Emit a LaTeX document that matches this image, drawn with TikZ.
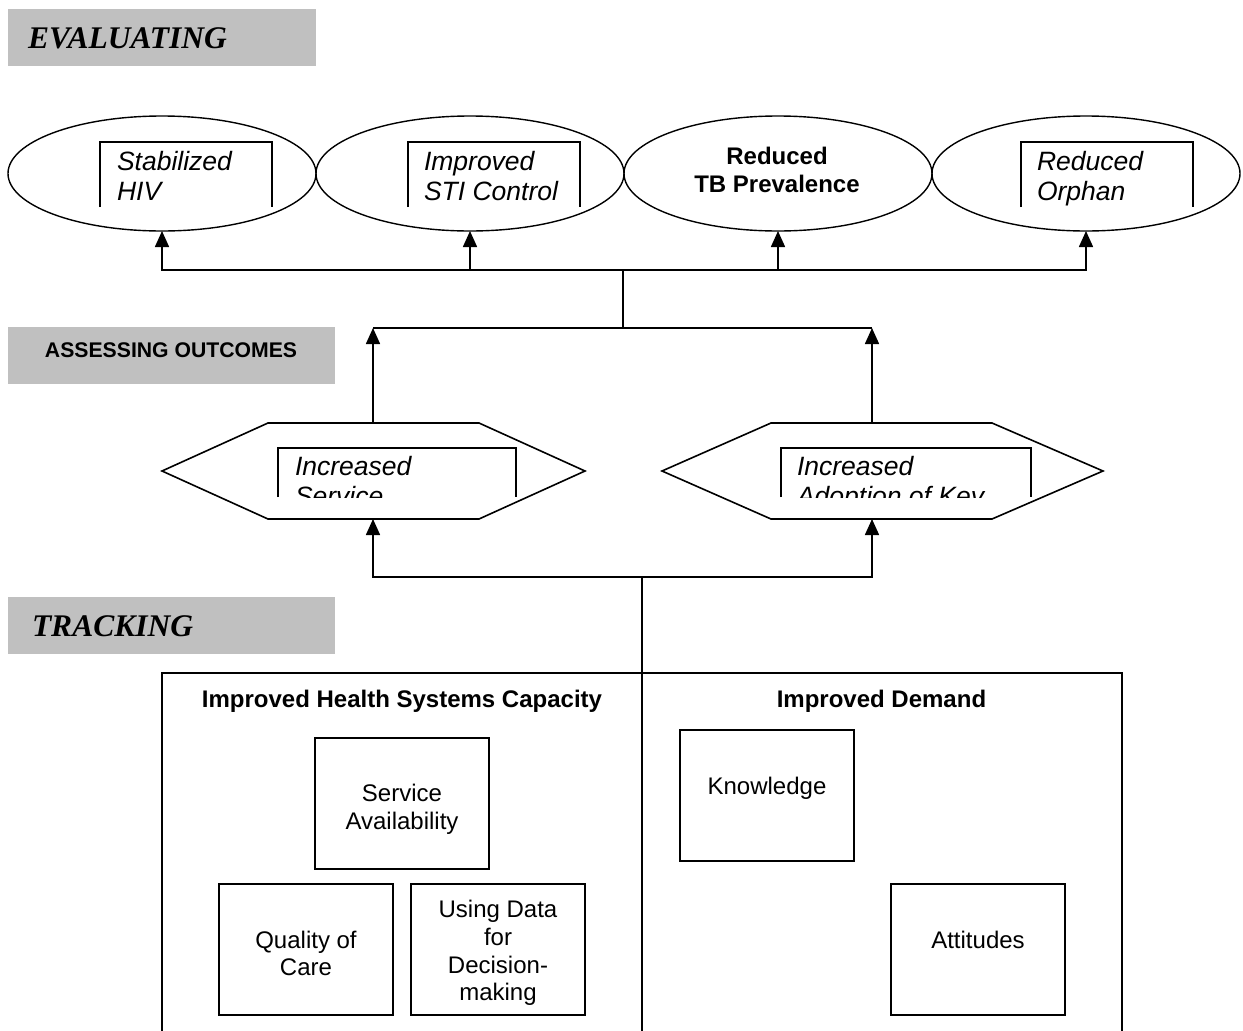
\documentclass[tikz,border=0pt]{standalone}
\usepackage{fontspec}
\setmainfont{Liberation Sans}
\newfontfamily\timesf{Liberation Serif}
\usetikzlibrary{shapes.geometric,arrows.meta}
\definecolor{bandgray}{HTML}{C0C0C0}
\begin{document}
\begin{tikzpicture}[x=1pt,y=-1pt,
  every node/.style={inner sep=0pt,outer sep=0pt},
  ln/.style={line width=1.6pt},
  arr/.style={line width=1.6pt,-{Triangle[width=14pt,length=16pt]}},
  band/.style={fill=bandgray,draw=none},
  bandtitle/.style={anchor=base west,font=\timesf\bfseries\itshape\fontsize{31.5}{36}\selectfont},
  outcome/.style={draw,ellipse,line width=1.4pt,minimum width=308pt,minimum height=115pt},
  itxt/.style={anchor=base west,font=\itshape\fontsize{26.5}{30}\selectfont},
  btxt/.style={anchor=base,font=\bfseries\fontsize{24}{28}\selectfont},
  smallbox/.style={draw,line width=1.4pt,minimum width=174pt,minimum height=131pt},
  ntxt/.style={align=center,font=\fontsize{24}{27.8}\selectfont}
]
\useasboundingbox (0,0) rectangle (1243,1031);

% grey bands
\fill[band] (8,9) rectangle (316,66);
\node[bandtitle] (evt) at (28,48) {EVALUATING};
\fill[band] (8,327) rectangle (335,384);
\node[anchor=base west,font=\bfseries\fontsize{21.2}{25}\selectfont] (aot) at (45,357) {ASSESSING OUTCOMES};
\fill[band] (8,597) rectangle (335,654);
\node[bandtitle] (trt) at (32,636) {TRACKING};

% outcome ellipses
\node[outcome] (e1) at (162,173.5) {};
\node[outcome] (e2) at (470,173.5) {};
\node[outcome] (e3) at (778,173.5) {};
\node[outcome] (e4) at (1086,173.5) {};

% inner open boxes with clipped text
\draw[ln] (100,207) -- (100,142) -- (272,142) -- (272,207);
\node[itxt] (e1a) at (117,170) {Stabilized};
\node[itxt] (e1b) at (117,200) {HIV};
\draw[ln] (408,207) -- (408,142) -- (580,142) -- (580,207);
\node[itxt] (e2a) at (424,170) {Improved};
\node[itxt] (e2b) at (424,200) {STI Control};
\node[btxt] (e3a) at (777,164) {Reduced};
\node[btxt] (e3b) at (777,192) {TB Prevalence};
\draw[ln] (1021,207) -- (1021,142) -- (1193,142) -- (1193,207);
\begin{scope}
\clip (1021,140) rectangle (1193,207);
\node[itxt] (e4a) at (1037,170) {Reduced};
\node[itxt] (e4b) at (1037,200) {Orphan};
\end{scope}

% hexagons
\draw[ln] (162,471) -- (268,423) -- (479,423) -- (585,471) -- (479,519) -- (268,519) -- cycle;
\draw[ln] (662,471) -- (771,423) -- (992,423) -- (1103,471) -- (992,519) -- (771,519) -- cycle;
\coordinate (h1t) at (373,423);
\coordinate (h1b) at (373,519);
\coordinate (h2t) at (872,423);
\coordinate (h2b) at (872,519);

\draw[ln] (278,497) -- (278,448) -- (516,448) -- (516,497);
\draw[ln] (781,497) -- (781,448) -- (1031,448) -- (1031,497);
\begin{scope}
\clip (270,440) rectangle (1040,497);
\node[itxt] (h1a) at (295,475) {Increased};
\node[itxt] (h1c) at (295,505) {Service};
\node[itxt] (h2a) at (797,475) {Increased};
\node[itxt] (h2c) at (797,505) {Adoption of Key};
\end{scope}

% connectors top
\coordinate (ja) at (623,270);
\coordinate (jb) at (623,328);
\coordinate (jb1) at (373,328);
\coordinate (jb2) at (872,328);
\draw[ln] (ja) -- (jb);
\draw[arr] (ja) -| (e1.south);
\draw[arr] (ja) -| (e2.south);
\draw[arr] (ja) -| (e3.south);
\draw[arr] (ja) -| (e4.south);
\draw[ln] (jb1) -- (jb2);
\draw[arr] (h1t) -- (jb1);
\draw[arr] (h2t) -- (jb2);

% connectors lower
\coordinate (jc) at (642,577);
\coordinate (jd) at (642,1031);
\draw[arr] (jc) -| (h1b);
\draw[arr] (jc) -| (h2b);
\draw[ln] (jc) -- (jd);

% big box
\coordinate (bb1) at (162,1031);
\coordinate (bb2) at (162,673);
\coordinate (bb3) at (1122,673);
\coordinate (bb4) at (1122,1031);
\draw[ln] (bb1) -- (bb2) -- (bb3) -- (bb4);
\node[btxt] (t1) at (402,707) {Improved Health Systems Capacity};
\node[btxt] (t2) at (881.5,707) {Improved Demand};

% small boxes
\node[smallbox] (sa) at (402,803.5) {};
\node[ntxt] (sat) at (402,809) {Service\\Availability};
\node[smallbox] (qc) at (306,949.5) {};
\node[ntxt] (qct) at (306,953.5) {Quality of\\Care};
\node[smallbox] (ud) at (498,949.5) {};
\node[ntxt] (udt) at (498,953) {Using Data\\for\\Decision-\\making};
\node[smallbox] (kn) at (767,795.5) {};
\node[ntxt] (knt) at (767,788.5) {Knowledge};
\node[smallbox] (at) at (978,949.5) {};
\node[ntxt] (att) at (978,940) {Attitudes};
\end{tikzpicture}
\end{document}
